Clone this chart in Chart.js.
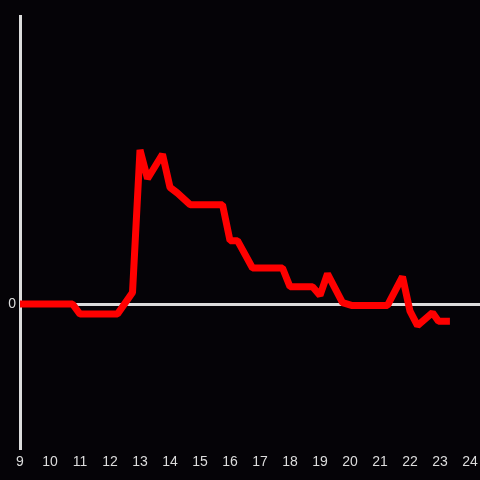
<!DOCTYPE html>
<html>
<head>
<meta charset="utf-8">
<script src="https://cdn.jsdelivr.net/npm/chart.js@4"></script>
<style>
    html, body { margin: 0; padding: 0; background: #050307; }
    #wrap { width: 480px; height: 480px; }
</style>
</head>
<body>
<div id="wrap"><canvas id="chart" width="480" height="480"></canvas></div>
<script>
/** DATA */

const hours = [9, 10.75, 11, 12.25, 12.75, 13, 13.25, 13.75, 14, 14.25, 14.67, 15.75, 16, 16.25,
    16.75, 17.75, 18, 18.75, 19, 19.25, 19.75, 20.05, 21.25, 21.75, 22, 22.25, 22.75, 22.95, 23.33];
const values = [0, 0, -0.07, -0.07, 0.08, 1.07, 0.87, 1.04, 0.81, 0.77, 0.69, 0.69, 0.44, 0.44,
    0.25, 0.25, 0.12, 0.12, 0.06, 0.21, 0.01, -0.01, -0.01, 0.19, -0.05, -0.15, -0.06, -0.12, -0.12];
const xTicks = [9, 10, 11, 12, 13, 14, 15, 16, 17, 18, 19, 20, 21, 22, 23, 24];

/** CHART */

const axisColor = '#dcdcdc';
const labelFont = { family: '"Liberation Sans", Arial, sans-serif', size: 14 };

const points = hours.map((h, i) => ({ x: h, y: values[i] }));

const ctx = document.getElementById('chart');
new Chart(ctx, {
    type: 'line',
    data: {
        datasets: [{
            data: points,
            borderColor: '#ff0000',
            borderWidth: 7,
            borderJoinStyle: 'bevel',
            pointRadius: 0,
            tension: 0,
            fill: false
        }]
    },
    options: {
        responsive: false,
        animation: false,
        layout: { padding: { top: 16, right: 0, left: 0, bottom: 0 } },
        plugins: { legend: { display: false }, tooltip: { enabled: false } },
        scales: {
            x: {
                type: 'linear',
                min: 9,
                max: 24.333,
                afterBuildTicks: (scale) => {
                    scale.ticks = xTicks.map(v => ({ value: v }));
                },
                afterFit: (scale) => {
                    scale.height = 32;
                    scale.paddingLeft = 0;
                    scale.paddingRight = 0;
                },
                grid: { display: false, drawTicks: false },
                border: { display: false },
                ticks: {
                    color: axisColor,
                    font: labelFont,
                    padding: 6,
                    maxRotation: 0,
                    autoSkip: false,
                    callback: (v) => String(v)
                }
            },
            y: {
                min: -1,
                max: 2,
                afterFit: (scale) => {
                    scale.width = 20;
                    scale.paddingTop = 0;
                    scale.paddingBottom = 0;
                },
                grid: {
                    drawTicks: false,
                    lineWidth: 3,
                    color: (c) => (c.tick && c.tick.value === 0) ? axisColor : 'rgba(0,0,0,0)'
                },
                border: { display: true, color: axisColor, width: 3 },
                ticks: {
                    stepSize: 1,
                    color: axisColor,
                    font: labelFont,
                    padding: 4,
                    callback: (v) => v === 0 ? '0' : ''
                }
            }
        }
    }
});
</script>
</body>
</html>
